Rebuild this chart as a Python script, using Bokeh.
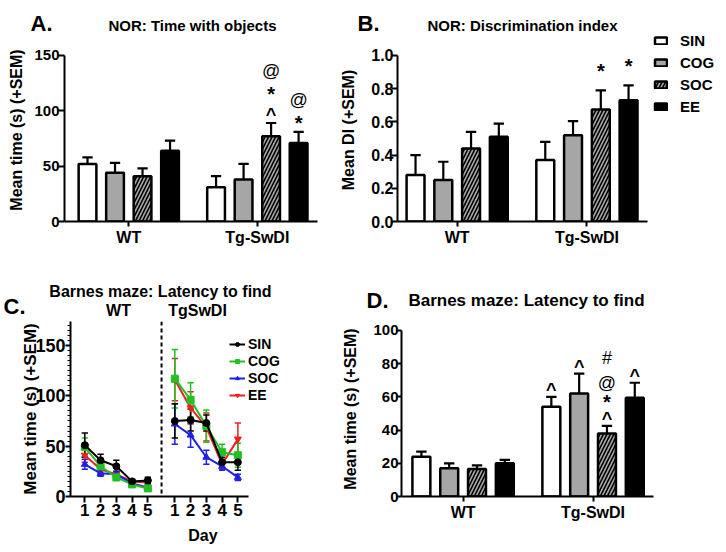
from bokeh.plotting import figure
from bokeh.models import (Label, Legend, LegendItem, FixedTicker, Span, Range1d,
                          SingleIntervalTicker, PrintfTickFormatter, CustomJSTickFormatter)
from bokeh.layouts import row, column
from bokeh.embed import file_html
from bokeh.resources import INLINE
from bokeh.core.properties import value

FONT = "Liberation Sans"

# ---------------- data ----------------
groups = ["WT", "Tg-SwDI"]
series = ["SIN", "COG", "SOC", "EE"]

# Panel A: NOR time with objects, per series [WT, Tg-SwDI]
a_mean = [[52, 31], [44, 38], [41, 77], [64, 71]]
a_sem = [[6, 10], [9, 14], [7, 12], [9, 10]]
a_yticks = [0, 50, 100, 150]
a_sig = [(1, 2, ["^", "*", "@"]), (1, 3, ["*", "@"])]

# Panel B: NOR discrimination index
b_mean = [[0.28, 0.37], [0.25, 0.52], [0.44, 0.675], [0.51, 0.73]]
b_sem = [[0.12, 0.11], [0.11, 0.085], [0.10, 0.115], [0.08, 0.09]]
b_yticks = [0.0, 0.2, 0.4, 0.6, 0.8, 1.0]
b_sig = [(1, 2, ["*"]), (1, 3, ["*"])]

# Panel C: Barnes maze latency by day
c_days = [1, 2, 3, 4, 5]
c_wt_mean = [[51, 36, 30, 15, 16], [49, 30, 19, 12, 8], [32, 23, 22, 13, 9], [41, 27, 22, 15, 14]]
c_wt_sem = [[12, 6, 6, 2, 3], [9, 5, 3, 2, 2], [5, 3, 3, 2, 2], [7, 4, 3, 2, 2]]
c_tg_mean = [[75, 76, 73, 34, 34], [117, 96, 70, 44, 41], [72, 61, 39, 30, 19], [116, 88, 69, 32, 57]]
c_tg_sem = [[17, 11, 8, 5, 8], [29, 17, 16, 8, 12], [20, 12, 7, 4, 3], [21, 16, 14, 5, 16]]
c_groups = ["WT", "TgSwDI"]

# Panel D: Barnes maze latency (mean)
d_mean = [[24, 54], [17, 62], [16.5, 38], [20, 59.5]]
d_sem = [[3, 6], [3, 12], [2.3, 4.5], [2, 9]]
d_yticks = [0, 20, 40, 60, 80, 100]
d_sig = [(1, 0, ["^"]), (1, 1, ["^"]), (1, 2, ["^", "*", "@", "#"]), (1, 3, ["^"])]

# ---------------- styles ----------------
bar_fill = ["white", "#a6a6a6", "#a6a6a6", "black"]
bar_hatch = [None, None, "/", None]
OFFS = [-0.321, -0.107, 0.107, 0.321]
BW = 0.138
CAP = 0.04
SYM = {"*": ("20px", "bold", 3), "^": ("18px", "bold", 4),
       "@": ("18px", "normal", 0), "#": ("18px", "normal", -9)}
line_colors = ["black", "#22c022", "#1f1fe6", "#ee2020"]
markers = ["circle", "square", "triangle", "inverted_triangle"]


def blank_fig(w, h, xr, yr):
    p = figure(width=w, height=h, x_range=Range1d(*xr), y_range=Range1d(*yr),
               x_axis_type=None, y_axis_type=None, output_backend="svg", toolbar_location=None,
               min_border_left=0, min_border_right=0, min_border_top=0, min_border_bottom=0)
    p.outline_line_color = None
    p.xgrid.visible = False
    p.ygrid.visible = False
    return p


def header(x0, y0, w, h, items):
    p = blank_fig(w, h, (x0, x0 + w), (y0 + h, y0))
    for (x, y, text, size, align) in items:
        p.add_layout(Label(x=x, y=y, text=text, text_font=FONT, text_font_size=size,
                           text_font_style="bold", text_align=align, text_baseline="middle",
                           text_color="black"))
    return p


def base_fig(width, height, borders, xr, yr):
    left, right, top, bottom = borders
    p = figure(width=width, height=height, x_range=Range1d(*xr), y_range=Range1d(*yr),
               output_backend="svg", toolbar_location=None,
               min_border_left=left, min_border_right=right,
               min_border_top=top, min_border_bottom=bottom)
    p.outline_line_color = None
    p.xgrid.visible = False
    p.ygrid.visible = False
    for ax in (p.xaxis[0], p.yaxis[0]):
        ax.axis_line_width = 2
        ax.axis_line_color = "black"
        ax.major_tick_line_width = 2
        ax.major_tick_line_color = "black"
        ax.major_tick_in = 0
        ax.major_tick_out = 6
        ax.minor_tick_line_color = None
        ax.major_label_text_font = FONT
        ax.major_label_text_font_style = "bold"
        ax.major_label_text_color = "black"
        ax.axis_label_text_font = FONT
        ax.axis_label_text_font_style = "bold"
        ax.axis_label_text_color = "black"
    return p


def bar_style(i):
    kw = dict(fill_color=bar_fill[i], line_color="black", line_width=2.5)
    if bar_hatch[i]:
        kw.update(hatch_pattern=bar_hatch[i], hatch_color="black", hatch_scale=7,
                  hatch_weight=1.6)
    return kw


def bar_panel(width, height, borders, xr, yr, xb, yb, means, sems, yticks, ylabel,
              tick_size, tick_standoff, ylab_size, ylab_standoff, sig, g0, step, fmt=None):
    p = base_fig(width, height, borders, xr, yr)
    frame_h = height - borders[2] - borders[3]
    ppu = frame_h / (yr[1] - yr[0])
    for i in range(len(series)):
        xs = [g + 1 + OFFS[i] for g in range(len(groups))]
        p.vbar(x=xs, top=means[i], bottom=0, width=BW, **bar_style(i))
        hi = [m + e for m, e in zip(means[i], sems[i])]
        p.segment(x0=xs, y0=means[i], x1=xs, y1=hi, line_color="black", line_width=2.2)
        p.segment(x0=[x - CAP for x in xs], y0=hi, x1=[x + CAP for x in xs], y1=hi,
                  line_color="black", line_width=2.2)
    for g, si, syms in sig:
        x = g + 1 + OFFS[si]
        cap = means[si][g] + sems[si][g]
        for k, sym in enumerate(syms):
            y = cap + (g0 + k * step) / ppu
            fs, fw, yo = SYM[sym]
            p.text(x=[x], y=[y], text=[sym], text_align="center", text_baseline="middle",
                   text_font=value(FONT), text_font_size=fs, text_font_style=fw,
                   y_offset=yo, text_color="black")
    p.xaxis.ticker = FixedTicker(ticks=[1, 2])
    p.xaxis.formatter = CustomJSTickFormatter(args=dict(names=groups),
                                              code="return names[Math.round(tick) - 1];")
    p.xaxis.bounds = xb
    p.xaxis.major_tick_out = 5
    p.xaxis.major_label_standoff = 2
    p.xaxis.major_label_text_font_size = "16px"
    p.yaxis.ticker = FixedTicker(ticks=yticks)
    p.yaxis.bounds = yb
    if fmt:
        p.yaxis.formatter = fmt
    p.yaxis.major_label_text_font_size = tick_size
    p.yaxis.major_label_standoff = tick_standoff
    p.yaxis.axis_label = ylabel
    p.yaxis.axis_label_text_font_size = ylab_size
    p.yaxis.axis_label_standoff = ylab_standoff
    return p


# ---------------- top row ----------------
hA = header(0, 0, 335, 38, [(30, 23, "A.", "22px", "left"),
                             (192, 25, "NOR: Time with objects", "15px", "center")])
hB = header(335, 0, 315, 38, [(357, 23, "B.", "22px", "left"),
                               (522, 25, "NOR: Discrimination index", "15px", "center")])

pa = bar_panel(335, 232, (64, 18, 0, 49), (0.5, 2.468), (0, 165.36), (0.5, 2.468), (0, 150),
               a_mean, a_sem, a_yticks, "Mean time (s) (+SEM)",
               "15px", -1, "16px", 6, a_sig, 12, 20)

pb = bar_panel(315, 232, (62, 3, 0, 49), (0.54, 2.467), (0, 1.1024), (0.54, 2.467), (0, 1.0),
               b_mean, b_sem, b_yticks, "Mean DI (+SEM)",
               "16px", -2, "16px", 11, b_sig, 22, 20,
               fmt=PrintfTickFormatter(format="%.1f"))

# legend for the bar panels (degenerate zero-size swatch renderers)
pl = blank_fig(76, 270, (0, 1), (0, 1))
leg_r = [pl.vbar(x=[0.5], top=[0], bottom=[0], width=0, **bar_style(i)) for i in range(len(series))]
leg_b = Legend(items=[LegendItem(label=s, renderers=[r]) for s, r in zip(series, leg_r)],
               location=(3, 155), orientation="vertical", padding=0, margin=0, spacing=4,
               glyph_width=15, glyph_height=9, label_height=18, label_standoff=12,
               label_text_font=FONT, label_text_font_size="15px", label_text_font_style="bold",
               label_text_color="black", border_line_color=None, background_fill_alpha=0)
pl.add_layout(leg_b)

# ---------------- bottom row ----------------
hC = header(0, 270, 335, 51, [(160, 291, "Barnes maze: Latency to find", "16px", "center"),
                               (3, 306, "C.", "22px", "left"),
                               (118, 310, c_groups[0], "16px", "center"),
                               (197, 310, c_groups[1], "16px", "center")])
hD = header(335, 270, 391, 51, [(366, 300, "D.", "22px", "left"),
                                 (526, 300, "Barnes maze: Latency to find", "17px", "center")])

tg_shift = 5.714
c_split = 5.87
pc = base_fig(335, 231, (70, 0, 0, 56), (0.092, 16.91), (0, 173.8))
c_cap = 0.2
for i in reversed(range(len(series))):
    col = line_colors[i]
    for shift, mean, sem in ((0, c_wt_mean[i], c_wt_sem[i]), (tg_shift, c_tg_mean[i], c_tg_sem[i])):
        xs = [d + shift for d in c_days]
        lo = [m - e for m, e in zip(mean, sem)]
        hi = [m + e for m, e in zip(mean, sem)]
        pc.segment(x0=xs, y0=lo, x1=xs, y1=hi, line_color=col, line_width=1.5)
        pc.segment(x0=[x - c_cap for x in xs], y0=hi, x1=[x + c_cap for x in xs], y1=hi,
                   line_color=col, line_width=1.5)
        pc.segment(x0=[x - c_cap for x in xs], y0=lo, x1=[x + c_cap for x in xs], y1=lo,
                   line_color=col, line_width=1.5)
leg_items = []
for i in reversed(range(len(series))):
    col = line_colors[i]
    rend = []
    for shift, mean in ((0, c_wt_mean[i]), (tg_shift, c_tg_mean[i])):
        xs = [d + shift for d in c_days]
        l = pc.line(xs, mean, line_color=col, line_width=2)
        s = pc.scatter(xs, mean, marker=markers[i], size=7, fill_color=col, line_color=col)
        if shift == 0:
            rend = [l, s]
    leg_items.insert(0, LegendItem(label=series[i], renderers=rend))
pc.add_layout(Span(location=c_split, dimension="height", line_color="black",
                   line_width=2, line_dash="4 3"))
pc.xaxis.ticker = FixedTicker(ticks=c_days + [d + tg_shift for d in c_days])
pc.xaxis.formatter = CustomJSTickFormatter(
    args=dict(split=c_split, shift=tg_shift),
    code="const d = tick < split ? tick : tick - shift; return String(Math.round(d));")
pc.xaxis.bounds = (0.092, 11.39)
pc.xaxis.major_label_text_font_size = "17px"
pc.xaxis.major_label_standoff = 1
pc.xaxis.axis_label = "Day"
pc.xaxis.axis_label_text_font_size = "16px"
pc.xaxis.axis_label_standoff = 8
pc.yaxis.ticker = SingleIntervalTicker(interval=50, num_minor_ticks=10)
pc.yaxis.minor_tick_line_color = "black"
pc.yaxis.minor_tick_line_width = 1
pc.yaxis.minor_tick_in = 0
pc.yaxis.minor_tick_out = 3
pc.yaxis.major_tick_out = 5
pc.yaxis.major_label_text_font_size = "18px"
pc.yaxis.major_label_standoff = 0
pc.yaxis.axis_label = "Mean time (s) (+SEM)"
pc.yaxis.axis_label_text_font_size = "17px"
pc.yaxis.axis_label_standoff = -8
leg_c = Legend(items=leg_items, location=(159, 93), orientation="vertical", padding=0,
               margin=0, spacing=1, glyph_width=16, glyph_height=10, label_height=16,
               label_standoff=3, label_text_font=FONT, label_text_font_size="14px",
               label_text_font_style="bold", label_text_color="black",
               border_line_color=None, background_fill_alpha=0)
pc.add_layout(leg_c)

pd_ = bar_panel(391, 231, (66, 73, 0, 56), (0.526, 2.465), (0, 105.4), (0.526, 2.465), (0, 100),
                d_mean, d_sem, d_yticks, "Mean time (s) (+SEM)",
                "15px", -2, "16px", 11, d_sig, 11, 16)
pd_.yaxis.major_tick_out = 5

top = row(column(row(hA, hB), row(pa, pb)), pl)
bottom = column(row(hC, hD), row(pc, pd_))
layout = column(top, bottom)
open("out.html", "w").write(file_html(layout, INLINE))
